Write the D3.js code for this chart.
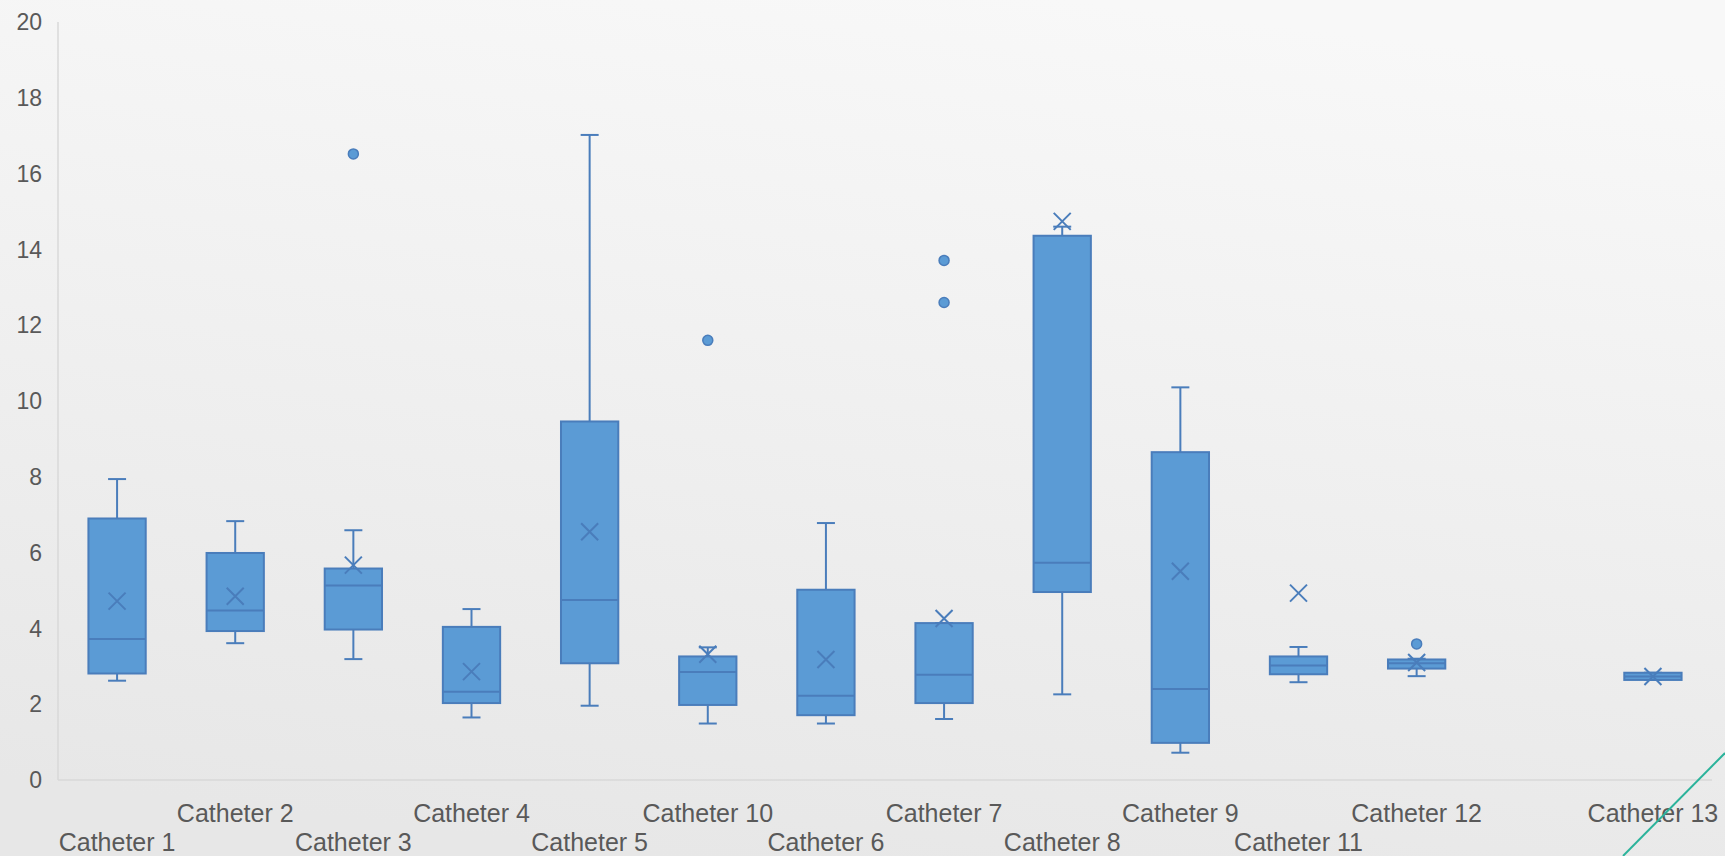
<!DOCTYPE html>
<html><head><meta charset="utf-8">
<script src="https://cdn.jsdelivr.net/npm/d3@7"></script>
<style>html,body{margin:0;padding:0;overflow:hidden;background:#f0f0f0}</style>
</head><body><svg id="c" width="1725" height="856"></svg>
<script>
const categories = ["Catheter 1","Catheter 2","Catheter 3","Catheter 4","Catheter 5","Catheter 10","Catheter 6","Catheter 7","Catheter 8","Catheter 9","Catheter 11","Catheter 12","","Catheter 13"];
const whiskerLow  = [2.62,3.61,3.19,1.65,1.96,1.49,1.49,1.61,2.26,0.72,2.58,2.74,null,2.64];
const q1          = [2.81,3.93,3.97,2.03,3.08,1.98,1.71,2.03,4.96,0.98,2.79,2.94,null,2.64];
const median      = [3.72,4.47,5.13,2.33,4.75,2.85,2.22,2.78,5.73,2.40,3.02,3.08,null,2.73];
const q3          = [6.90,5.99,5.58,4.04,9.46,3.26,5.02,4.14,14.36,8.65,3.26,3.18,null,2.83];
const whiskerHigh = [7.94,6.83,6.59,4.51,17.02,3.50,6.78,4.14,14.6,10.36,3.51,3.20,null,2.83];
const mean        = [4.72,4.85,5.67,2.86,6.55,3.32,3.18,4.26,14.74,5.51,4.93,3.10,null,2.73];
const outliers    = [[],[],[16.52],[],[],[11.60],[],[13.71,12.60],[],[],[],[3.59],[],[]];
const yTicks = [0,2,4,6,8,10,12,14,16,18,20];

const svg = d3.select("#c");
const W = 1725, H = 856;
const defs = svg.append("defs");
const g = defs.append("linearGradient").attr("id","bg").attr("x1","0.62").attr("y1","0").attr("x2","0.38").attr("y2","1");
g.append("stop").attr("offset","0").attr("stop-color","#f8f8f8");
g.append("stop").attr("offset","1").attr("stop-color","#e7e7e7");
svg.append("rect").attr("width",W).attr("height",H).attr("fill","url(#bg)");

const x = d3.scaleBand().domain(d3.range(categories.length)).range([58,1712]).paddingInner(0).paddingOuter(0);
const y = d3.scaleLinear().domain([0,20]).range([780,22]);

const fill = "#5b9bd5", stroke = "#4a7dbb", text = "#595959", axisC = "#d9d9d9";

svg.append("line").attr("x1",58).attr("x2",58).attr("y1",y(20)).attr("y2",y(0)).attr("stroke",axisC).attr("stroke-width",1.5);
svg.append("line").attr("x1",58).attr("x2",1712).attr("y1",y(0)).attr("y2",y(0)).attr("stroke",axisC).attr("stroke-width",1.5);

svg.append("g").selectAll("text").data(yTicks).join("text")
  .attr("x",42).attr("y",d=>y(d)).attr("dy","0.36em").attr("text-anchor","end")
  .attr("font-family","Liberation Sans, Arial, sans-serif").attr("font-size",23).attr("fill",text).text(d=>d);

svg.append("g").selectAll("text").data(categories).join("text")
  .attr("x",(d,i)=>x(i)+x.bandwidth()/2).attr("y",(d,i)=> i%2===1 ? 822 : 851)
  .attr("text-anchor","middle").attr("font-family","Liberation Sans, Arial, sans-serif").attr("font-size",25)
  .attr("fill",text).text(d=>d);

const bw = x.bandwidth()*0.485, cap = 18;
const data = categories.map((c,i)=>({i, lo:whiskerLow[i], q1:q1[i], med:median[i], q3:q3[i], hi:whiskerHigh[i], mean:mean[i], out:outliers[i]})).filter(d=>d.q1!==null);
const boxes = svg.append("g").selectAll("g").data(data).join("g")
  .attr("transform",d=>`translate(${x(d.i)+x.bandwidth()/2},0)`);

boxes.append("line").attr("x1",0).attr("x2",0).attr("y1",d=>y(d.hi)).attr("y2",d=>y(d.q3)).attr("stroke",stroke).attr("stroke-width",2);
boxes.append("line").attr("x1",0).attr("x2",0).attr("y1",d=>y(d.lo)).attr("y2",d=>y(d.q1)).attr("stroke",stroke).attr("stroke-width",2);
boxes.append("line").attr("x1",-cap/2).attr("x2",cap/2).attr("y1",d=>y(d.hi)).attr("y2",d=>y(d.hi)).attr("stroke",stroke).attr("stroke-width",2);
boxes.append("line").attr("x1",-cap/2).attr("x2",cap/2).attr("y1",d=>y(d.lo)).attr("y2",d=>y(d.lo)).attr("stroke",stroke).attr("stroke-width",2);
boxes.append("rect").attr("x",-bw/2).attr("width",bw).attr("y",d=>y(d.q3)).attr("height",d=>Math.max(1,y(d.q1)-y(d.q3)))
  .attr("fill",fill).attr("stroke",stroke).attr("stroke-width",2);
boxes.append("line").attr("x1",-bw/2).attr("x2",bw/2).attr("y1",d=>y(d.med)).attr("y2",d=>y(d.med)).attr("stroke",stroke).attr("stroke-width",2);
const m = 8.5;
boxes.append("path").attr("d",d=>{const yy=y(d.mean);return `M${-m},${yy-m}L${m},${yy+m}M${-m},${yy+m}L${m},${yy-m}`;})
  .attr("stroke",stroke).attr("stroke-width",2).attr("fill","none");
boxes.each(function(d){
  d3.select(this).selectAll("circle").data(d.out).join("circle")
    .attr("cx",0).attr("cy",v=>y(v)).attr("r",5).attr("fill",fill).attr("stroke",stroke).attr("stroke-width",1.5);
});

svg.append("line").attr("x1",1623).attr("y1",856).attr("x2",1725).attr("y2",753).attr("stroke","#2bb39b").attr("stroke-width",2);
</script></body></html>
